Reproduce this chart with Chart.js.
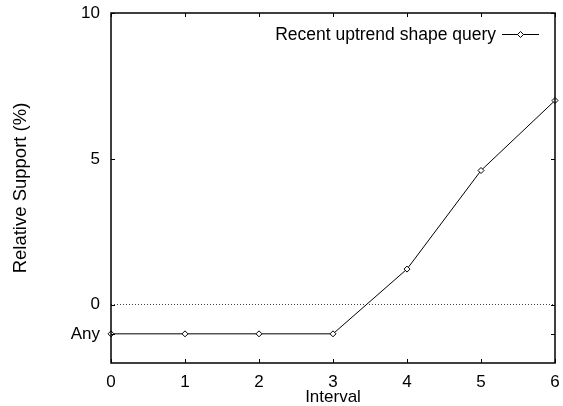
<!DOCTYPE html>
<html>
<head>
<meta charset="utf-8">
<script src="https://cdn.jsdelivr.net/npm/chart.js@4.4.1/dist/chart.umd.min.js"></script>
<style>
  html, body { margin: 0; padding: 0; background: #fff; }
  #wrap { width: 563px; height: 406px; }
</style>
</head>
<body>
<div id="wrap"><canvas id="chartLine"></canvas></div>
<script>
const intervals = [0, 1, 2, 3, 4, 5, 6];
const supports = [-1, -1, -1, -1, 1.22, 4.6, 7.0];
const yTickValues = [10, 5, 0, -1];
const seriesLabel = "Recent uptrend shape query";

const FONT = "'Liberation Sans', Arial, Helvetica, sans-serif";

// border box, inward ticks on all four sides, and a gnuplot-like key
const frame = {
    id: 'frame',
    afterDraw(chart) {
        const { ctx, chartArea: a, scales } = chart;
        ctx.save();
        ctx.strokeStyle = '#000';
        ctx.lineWidth = 1;
        ctx.beginPath();
        scales.x.ticks.forEach(t => {
            const px = Math.round(scales.x.getPixelForValue(t.value)) + 0.5;
            ctx.moveTo(px, a.bottom); ctx.lineTo(px, a.bottom - 4);
            ctx.moveTo(px, a.top); ctx.lineTo(px, a.top + 4);
        });
        scales.y.ticks.forEach(t => {
            const py = Math.round(scales.y.getPixelForValue(t.value)) + 0.5;
            ctx.moveTo(a.left, py); ctx.lineTo(a.left + 4, py);
            ctx.moveTo(a.right, py); ctx.lineTo(a.right - 4, py);
        });
        ctx.stroke();
        ctx.lineWidth = 1.5;
        ctx.strokeRect(Math.round(a.left), Math.round(a.top), Math.round(a.right - a.left), Math.round(a.bottom - a.top));

        // key
        const ds = chart.data.datasets[0];
        const ky = Math.round(a.top + 21) + 0.5;
        const x1 = a.right - 53, x2 = a.right - 16, xm = (x1 + x2) / 2;
        ctx.lineWidth = 1;
        ctx.beginPath();
        ctx.moveTo(x1, ky); ctx.lineTo(x2, ky);
        ctx.stroke();
        ctx.fillStyle = '#fff';
        ctx.beginPath();
        ctx.moveTo(xm, ky - 3); ctx.lineTo(xm + 3, ky); ctx.lineTo(xm, ky + 3); ctx.lineTo(xm - 3, ky); ctx.closePath();
        ctx.fill(); ctx.stroke();
        ctx.fillStyle = '#000';
        ctx.font = '17.5px ' + FONT;
        ctx.textAlign = 'right';
        ctx.textBaseline = 'alphabetic';
        ctx.fillText(ds.label, a.right - 59, a.top + 27);
        ctx.restore();
    }
};

const data = {
    datasets: [{
        label: seriesLabel,
        data: intervals.map((x, i) => ({ x: x, y: supports[i] })),
        borderColor: '#000',
        backgroundColor: '#fff',
        borderWidth: 1,
        pointStyle: 'rectRot',
        pointRadius: 3,
        pointBorderWidth: 1,
        pointBackgroundColor: '#fff',
        pointBorderColor: '#000',
        tension: 0,
        clip: false,
    }],
};

const config = {
    type: 'line',
    data,
    options: {
        responsive: true,
        maintainAspectRatio: false,
        animation: false,
        events: [],
        layout: { padding: { left: 0, right: 8, top: 13, bottom: 0 } },
        plugins: {
            tooltip: { enabled: false },
            legend: { display: false },
        },
        scales: {
            x: {
                type: 'linear',
                min: 0,
                max: 6,
                ticks: {
                    stepSize: 1,
                    color: '#000',
                    font: { family: FONT, size: 17 },
                    padding: 9,
                    maxRotation: 0,
                },
                grid: { display: false, drawTicks: false },
                border: { display: false },
                title: {
                    display: true,
                    text: 'Interval',
                    color: '#000',
                    font: { family: FONT, size: 17, lineHeight: 1 },
                    padding: { top: 0, bottom: 0 },
                },
                afterFit: (scale) => {
                    scale.height = 43;
                    scale.paddingLeft = 0;
                    scale.paddingRight = 0;
                },
            },
            y: {
                min: -2,
                max: 10,
                afterBuildTicks: (scale) => {
                    scale.ticks = yTickValues.map(v => ({ value: v }));
                },
                ticks: {
                    color: '#000',
                    font: { family: FONT, size: 17 },
                    padding: 11,
                    callback: (v) => v === -1 ? 'Any' : String(v),
                },
                grid: {
                    drawTicks: false,
                    tickLength: 0,
                    lineWidth: 1,
                    color: (ctx) => ctx.tick && ctx.tick.value === 0 ? '#444' : 'rgba(0,0,0,0)',
                },
                border: { display: false, dash: [1, 2] },
                title: {
                    display: true,
                    text: 'Relative Support (%)',
                    color: '#000',
                    font: { family: FONT, size: 18.5 },
                    padding: { top: 10, bottom: 0 },
                },
                afterFit: (scale) => {
                    scale.width = 111;
                    scale.paddingTop = 0;
                    scale.paddingBottom = 0;
                },
            },
        },
    },
    plugins: [frame],
};

var chartLine = new Chart(document.getElementById('chartLine'), config);
</script>
</body>
</html>
